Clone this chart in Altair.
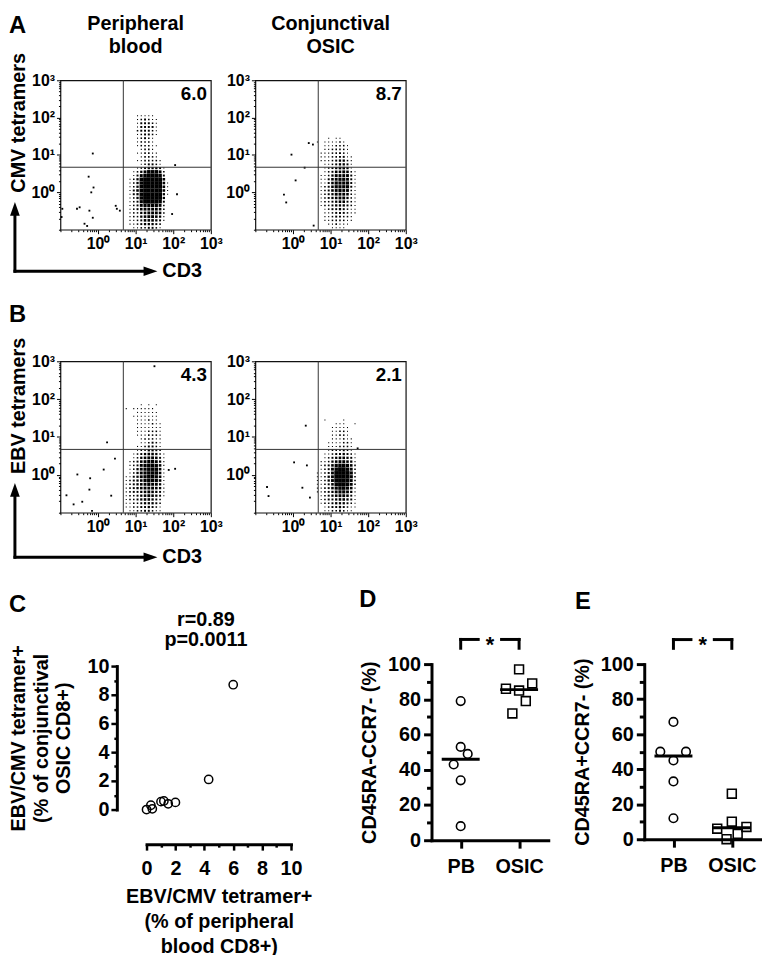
import altair as alt
import numpy as np
import pandas as pd

FONT = "Liberation Sans"

# ---------------- Panels A / B : flow cytometry dot plots ----------------
# Event density on a 0.1-decade grid (log10 units).
# Each row string = one 0.1-decade band (top row first), digit = density 0-9.
A1_X0, A1_Y0 = 0.7, 2.0
A1_ROWS = [
    "0001111100000", "0001232110000", "0001333210000", "0001333310000",
    "0002333210000", "0001233210000", "0001232100000", "0001222100000",
    "0001222110000", "0000122100000", "0001122110000", "0000122210000",
    "0001122221000", "0000123321000", "0001234443100", "0012468886200",
    "0013689998300", "0124899999500", "0124899999510", "0124899999510",
    "0135899999510", "0134899999410", "0124899999400", "0123799998300",
    "0123677776200", "0123566665200", "0122456665200", "0122456654100",
    "0112355543100", "0112344432000", "0011223321000",
]
A1_OUT_X = [-0.14, -0.25, -0.12, -0.18, -0.49, -0.56, -0.95, -0.23, -0.14,
            -0.36, 0.47, 0.58, 2.05, 2.10, 1.97, -0.29, -0.97, 0.50]
A1_OUT_Y = [1.04, 0.42, 0.13, 0.00, -0.40, -0.44, -0.44, -0.49, -0.68,
            -0.84, -0.36, -0.49, 0.73, -0.05, -0.58, -0.90, -0.66, -0.44]

A2_X0, A2_Y0 = 0.4, 1.4
A2_ROWS = [
    "0000010110000000", "0010111121000000", "0000111222100000",
    "0000112222100000", "0001112232100000", "0001112233110000",
    "0001112344210000", "0000112344310000", "0000123455410000",
    "0000123556521000", "0001124666631000", "0001135677631000",
    "0001135777731000", "0001235777731000", "0001235676621000",
    "0001234666521000", "0001234566421000", "0001223455321000",
    "0001223444321000", "0000123343211000", "0000112333211000",
    "0000112332210000", "0000112222110000", "0000011211100000",
    "0000001111000000",
]
A2_OUT_X = [-0.04, 0.07, -0.24, -0.18, 0.42, 0.31, 0.55, 0.53]
A2_OUT_Y = [1.01, 0.32, -0.06, -0.27, 1.32, 0.66, -0.89, 1.28]

B1_X0, B1_Y0 = 0.6, 1.8
B1_ROWS = [
    "00000101010000", "01011111100000", "00001111110000", "00011111110000",
    "00001112110000", "00001111211000", "00001111111000", "00001112221000",
    "00001112221000", "00000122211000", "00000112321000", "00001123321000",
    "00001224432000", "00012345542100", "00012456653100", "00123567764100",
    "00123678875100", "00124678885100", "00124678885100", "01134678875100",
    "01234578775100", "01234567664100", "01234566654100", "01233456543100",
    "01223456543100", "01223455432000", "01122344432000", "01122334321000",
    "00112233211000",
]
B1_OUT_X = [1.50, 0.24, 0.45, 0.15, -0.55, -0.21, -0.23, -0.84, -0.42,
            -0.65, -0.16, 1.88, 2.05, 0.35]
B1_OUT_Y = [2.87, 0.86, 0.43, 0.14, 0.01, -0.09, -0.39, -0.54, -0.71,
            -0.78, -0.95, 0.13, 0.16, -0.55]

B2_X0, B2_Y0 = 0.5, 1.4
B2_ROWS = [
    "000100001000000", "000000111001000", "000001111100000",
    "000001122100000", "000001122100000", "000001112110000",
    "000011112210000", "000011122210000", "000012223210000",
    "000112334321000", "000123455431000", "001124566541000",
    "001235788752000", "001236899862000", "011236999972000",
    "011246999972000", "011246999962000", "011235899862000",
    "011235788751000", "011234677641000", "001234566531000",
    "001233455431000", "001223444321000", "000123343211000",
    "000112232110000",
]
B2_OUT_X = [0.34, 0.03, 0.37, 0.25, -0.69, -0.65, 0.45, 1.72]
B2_OUT_Y = [1.30, 0.33, 0.25, -0.34, -0.32, -0.56, -0.60, 0.70]

GATE = 4.7
PCT = ["6.0", "8.7", "4.3", "2.1"]
# fraction of a grid cell covered by events, per density digit
DENSITY_FILL = [0, 0.08, 0.17, 0.27, 0.37, 0.47, 0.58, 0.72, 0.86, 1.05]
CELL_AREA = 14.4  # px^2 of one 0.1-decade cell

# ---------------- Panel C ----------------
C_X = [0.0, 0.3, 0.4, 1.0, 1.2, 1.5, 2.0, 4.3, 6.0]
C_Y = [0.0, 0.3, 0.05, 0.55, 0.6, 0.4, 0.5, 2.1, 8.7]

# ---------------- Panels D / E ----------------
GROUPS = ["PB", "OSIC"]
D_PB = [79, 53, 49, 43, 34, 8]
D_PB_JIT = [0, 0, 0.24, -0.24, 0, 0]
D_OSIC = [97, 89, 86, 85, 79, 72]
D_OSIC_JIT = [0, 0.45, -0.45, 0, 0.23, -0.23]
E_PB = [67, 50, 50, 45, 33, 12]
E_PB_JIT = [0, -0.45, 0.43, 0, 0, 0]
E_OSIC = [26, 10, 6, 7, 3, 0]
E_OSIC_JIT = [0, 0, -0.5, 0.5, 0.2, -0.18]

ONE = pd.DataFrame({"a": [0]})
UP = "M-0.7,1L0,-1L0.7,1Z"
RIGHT = "M-1,-0.7L1,0L-1,0.7Z"


def grid_cells(x0, y0, rows):
    recs = []
    for i, row in enumerate(rows):
        ylo = y0 - 0.1 * i
        for j, ch in enumerate(row):
            d = int(ch)
            if d == 0:
                continue
            xlo = x0 + 0.1 * j
            recs.append({"x": 10 ** (xlo + 0.05), "y": 10 ** (ylo + 0.05),
                         "s": CELL_AREA * DENSITY_FILL[d]})
    return pd.DataFrame(recs)


def text(t, x, y, size=20, align="left", baseline="top", angle=0):
    return alt.Chart(ONE).mark_text(
        text=t, fontSize=size, fontWeight="bold", align=align, baseline=baseline,
        angle=angle, color="black", lineBreak="\n", lineHeight=23, font=FONT
    ).encode(x=alt.value(x), y=alt.value(y))


def arrows(vx, v_top, hy, h_right):
    sv = alt.Chart(ONE).mark_rule(strokeWidth=3, color="black").encode(
        x=alt.value(vx), y=alt.value(v_top + 6), y2=alt.value(hy + 1.5))
    hu = alt.Chart(ONE).mark_point(shape=UP, filled=True, size=196, color="black",
                                   opacity=1, strokeWidth=0).encode(
        x=alt.value(vx), y=alt.value(v_top + 7))
    sh = alt.Chart(ONE).mark_rule(strokeWidth=3, color="black").encode(
        x=alt.value(vx - 1.5), x2=alt.value(h_right - 6), y=alt.value(hy))
    hr = alt.Chart(ONE).mark_point(shape=RIGHT, filled=True, size=196, color="black",
                                   opacity=1, strokeWidth=0).encode(
        x=alt.value(h_right - 7), y=alt.value(hy))
    return [sv, hu, sh, hr]


FLOW_TICKS = [k * 10 ** n for n in (-1, 0, 1, 2) for k in range(1, 10)] + [1000]
MAJOR = "datum.value == 1 || datum.value == 10 || datum.value == 100 || datum.value == 1000"


def flow_axis():
    return alt.Axis(
        values=FLOW_TICKS,
        labelExpr="datum.value == 1 ? '10⁰' : datum.value == 10 ? '10¹' : "
                  "datum.value == 100 ? '10²' : datum.value == 1000 ? '10³' : ''",
        tickSize={"condition": {"test": MAJOR, "value": 4}, "value": 2},
        tickWidth=1, tickColor="black", domain=False, grid=False,
        labelFontSize=16, labelFontWeight="bold", labelPadding=2,
        labelFlush=False, labelOverlap=False, title=None)


def flow_chart(x0, y0, rows, ox, oy, pct, h, extras):
    xs = alt.Scale(type="log", domain=[0.1, 1000], nice=False)
    ys = alt.Scale(type="log", domain=[0.1, 1000], nice=False)
    xa, ya = flow_axis(), flow_axis()
    cells = grid_cells(x0, y0, rows)
    outl = pd.DataFrame({"x": 10 ** np.array(ox), "y": 10 ** np.array(oy)})
    g = pd.DataFrame({"x": [GATE], "y": [GATE]})
    dens = alt.Chart(cells).mark_square(color="black", opacity=1, strokeWidth=0).encode(
        x=alt.X("x:Q", scale=xs, axis=xa), y=alt.Y("y:Q", scale=ys, axis=ya),
        size=alt.Size("s:Q", scale=None))
    pts = alt.Chart(outl).mark_square(size=3.5, color="black", opacity=1).encode(
        x=alt.X("x:Q", scale=xs, axis=xa), y=alt.Y("y:Q", scale=ys, axis=ya))
    gv = alt.Chart(g).mark_rule(color="#333333", strokeWidth=1).encode(
        x=alt.X("x:Q", scale=xs, axis=xa))
    gh = alt.Chart(g).mark_rule(color="#333333", strokeWidth=1).encode(
        y=alt.Y("y:Q", scale=ys, axis=ya))
    pt = text(pct, 148, 20, size=19, align="right", baseline="alphabetic")
    return alt.layer(dens, pts, gv, gh, pt, *extras).properties(
        width=152, height=h, view=alt.ViewBackground(stroke="#111111", strokeWidth=1.2))


a1 = flow_chart(A1_X0, A1_Y0, A1_ROWS, A1_OUT_X, A1_OUT_Y, PCT[0], 151, [
    text("A", -52, -67, size=24),
    text("Peripheral\nblood", 76, -67, align="center"),
    text("CMV tetramers", -42, 43, align="center", baseline="middle", angle=270),
    *arrows(-46, 123, 193, 98),
    text("CD3", 103, 193, baseline="middle"),
])
a2 = flow_chart(A2_X0, A2_Y0, A2_ROWS, A2_OUT_X, A2_OUT_Y, PCT[1], 151, [
    text("Conjunctival\nOSIC", 76, -67, align="center"),
])
b1 = flow_chart(B1_X0, B1_Y0, B1_ROWS, B1_OUT_X, B1_OUT_Y, PCT[2], 153, [
    text("B", -52, -59, size=24),
    text("EBV tetramers", -42, 45, align="center", baseline="middle", angle=270),
    *arrows(-46, 123, 198, 98),
    text("CD3", 103, 198, baseline="middle"),
])
b2 = flow_chart(B2_X0, B2_Y0, B2_ROWS, B2_OUT_X, B2_OUT_Y, PCT[3], 153, [])


def blank(h):
    return alt.Chart(ONE).mark_point(opacity=0).encode(
        x=alt.value(0), y=alt.value(0)).properties(width=1, height=h)


def tick_cond(test, major, minor):
    return {"condition": {"test": test, "value": major}, "value": minor}


# ---------------- Panel C chart ----------------
cdf = pd.DataFrame({"x": C_X, "y": C_Y})
c_xs = alt.Scale(domain=[0, 10], range=[87, 233], nice=False)
c_ys = alt.Scale(domain=[0, 10], range=[167, 22], nice=False)
c_common = dict(values=list(range(0, 11)),
                labelExpr="datum.value % 2 == 0 ? datum.label : ''",
                tickSize=tick_cond("datum.value % 2 == 0", 6, 3),
                tickWidth=2.5, domainWidth=3, domainCap="square",
                labelFontSize=20, labelFontWeight="bold", grid=False,
                labelFlush=False, labelOverlap=False)
c_xa = alt.Axis(offset=35, labelPadding=9,
                title=["EBV/CMV tetramer+", "(% of peripheral", "blood CD8+)"],
                titleFontSize=20, titleFontWeight="bold", titleLineHeight=25,
                titlePadding=8, **c_common)
c_ya = alt.Axis(offset=-57, labelPadding=2, title=None, **c_common)
c_pts = alt.Chart(cdf).mark_point(shape="circle", filled=False, color="black",
                                  strokeWidth=1.5, size=70, opacity=1).encode(
    x=alt.X("x:Q", scale=c_xs, axis=c_xa), y=alt.Y("y:Q", scale=c_ys, axis=c_ya))
c = alt.layer(
    c_pts,
    text("C", -52, -52, size=24),
    text("r=0.89", 147, -25, align="center", baseline="middle"),
    text("p=0.0011", 147, -4, align="center", baseline="middle"),
    text("EBV/CMV tetramer+", -42, 95, align="center", baseline="middle", angle=270),
    text("(% of conjunctival", -19, 95, align="center", baseline="middle", angle=270),
    text("OSIC CD8+)", 4, 95, align="center", baseline="middle", angle=270),
).properties(width=152, height=167)


# ---------------- Panels D / E ----------------
def group_chart(pb, pb_jit, osic, osic_jit, left, width, height, ytitle, label, lab_xy):
    pos = {"PB": 1, "OSIC": 3}
    pdf = pd.DataFrame({"x": [pos["PB"] + j for j in pb_jit], "y": pb})
    odf = pd.DataFrame({"x": [pos["OSIC"] + j for j in osic_jit], "y": osic})
    med = pd.DataFrame({"x": [pos["PB"] - 0.65, pos["OSIC"] - 0.65],
                        "x2": [pos["PB"] + 0.65, pos["OSIC"] + 0.65],
                        "y": [float(np.median(pb)), float(np.median(osic))]})
    br = pd.DataFrame({"x": [pos["PB"], pos["PB"], 2.4, pos["OSIC"]],
                       "x2": [1.6, pos["PB"], pos["OSIC"], pos["OSIC"]],
                       "y": [114, 114, 114, 114],
                       "y2": [114, 109, 114, 109]})
    star = pd.DataFrame({"x": [2], "y": [107], "t": ["*"]})
    xs = alt.Scale(domain=[0, 4], range=[left, width], nice=False)
    ys = alt.Scale(domain=[0, 100], range=[height, 20], nice=False)
    xa = alt.Axis(values=[1, 3], labelExpr="datum.value == 1 ? 'PB' : 'OSIC'",
                  tickSize=8, tickWidth=3, domainWidth=3, domainCap="square",
                  labelFontSize=20, labelFontWeight="bold", labelPadding=9,
                  grid=False, title=None, labelFlush=False)
    ya = alt.Axis(values=list(range(0, 101, 10)),
                  labelExpr="datum.value % 20 == 0 ? datum.label : ''",
                  tickSize=tick_cond("datum.value % 20 == 0", 8, 5),
                  tickWidth=3, domainWidth=3, domainCap="square", offset=-left,
                  labelFontSize=20, labelFontWeight="bold", labelPadding=3,
                  grid=False, labelFlush=False, labelOverlap=False,
                  title=ytitle, titleFontSize=20, titleFontWeight="bold",
                  titlePadding=8)
    enc = dict(x=alt.X("x:Q", scale=xs, axis=xa), y=alt.Y("y:Q", scale=ys, axis=ya))
    circ = alt.Chart(pdf).mark_point(shape="circle", filled=False, color="black",
                                     strokeWidth=1.6, size=75, opacity=1).encode(**enc)
    sq = alt.Chart(odf).mark_point(shape="square", filled=False, color="black",
                                   strokeWidth=1.6, size=80, opacity=1).encode(**enc)
    medl = alt.Chart(med).mark_rule(strokeWidth=3, color="black").encode(
        x2="x2:Q", **enc)
    brl = alt.Chart(br).mark_rule(strokeWidth=3, color="black", strokeCap="square").encode(
        x2="x2:Q", y2="y2:Q", **enc)
    st = alt.Chart(star).mark_text(fontSize=22, fontWeight="bold", baseline="alphabetic",
                                   color="black", font=FONT).encode(text="t:N", **enc)
    return alt.layer(circ, sq, medl, brl, st,
                     text(label, lab_xy[0], lab_xy[1], size=24)).properties(
        width=width, height=height)


d = group_chart(D_PB, D_PB_JIT, D_OSIC, D_OSIC_JIT, 178, 296, 198,
                "CD45RA-CCR7- (%)", "D", (105, -57))
e = group_chart(E_PB, E_PB_JIT, E_OSIC, E_OSIC_JIT, 52, 170, 197,
                "CD45RA+CCR7- (%)", "E", (-18, -55))

chart = alt.concat(
    a1, a2, blank(151), b1, b2, blank(153), c, d, e,
    columns=3, spacing={"row": 133, "column": 45}, bounds="flush", align="none",
).properties(padding=0).configure(font=FONT).configure_view(
    stroke="transparent").configure_axis(
    labelColor="black", tickColor="black", domainColor="black",
    titleColor="black", labelFont=FONT, titleFont=FONT)

chart.save("out.html", embed_options={"renderer": "svg", "actions": False})
